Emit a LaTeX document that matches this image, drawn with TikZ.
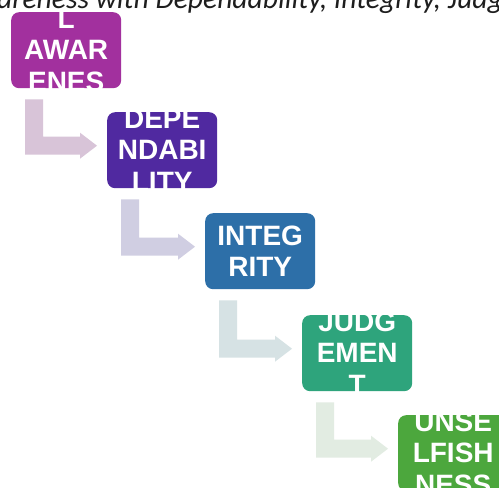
\documentclass[tikz,border=0pt]{standalone}
\usepackage{fontspec}
\setmainfont{Liberation Sans}
\newfontfamily\titlefont{Carlito}
\usetikzlibrary{calc}
\definecolor{cA}{RGB}{162,48,158}
\definecolor{cB}{RGB}{80,41,160}
\definecolor{cC}{RGB}{45,111,168}
\definecolor{cD}{RGB}{46,164,124}
\definecolor{cE}{RGB}{76,167,61}
\definecolor{aA}{RGB}{216,196,216}
\definecolor{aB}{RGB}{208,206,226}
\definecolor{aC}{RGB}{214,226,228}
\definecolor{aD}{RGB}{226,236,226}
\definecolor{titlegray}{RGB}{30,30,30}
\tikzset{
  stepbox/.style={rounded corners=8pt, minimum width=110pt, minimum height=76pt,
    inner sep=0pt, anchor=north west, draw=none},
  boxtext/.style={text=white, font=\fontsize{28}{31.5}\selectfont\bfseries,
    align=center, inner sep=0pt},
  titletext/.style={text=titlegray, font=\titlefont\itshape\fontsize{29.6}{34}\selectfont,
    inner sep=0pt, anchor=base west},
}
\newcommand\stepconn[3]{%
  \fill[#3] let \p1=(#1.south west), \p2=(#2.west) in
    (\x1+14pt,\y1-11pt) -- (\x1+32pt,\y1-11pt) -- (\x1+32pt,\y2+13.5pt)
    -- (\x2-27pt,\y2+13.5pt) -- (\x2-27pt,\y2+17.5pt) -- (\x2-10pt,\y2+4.5pt)
    -- (\x2-27pt,\y2-8.5pt) -- (\x2-27pt,\y2-4.5pt) -- (\x1+14pt,\y2-4.5pt) -- cycle;}
\newcommand\steptext[3]{%
  \begin{scope}
    \clip[rounded corners=8pt] (#1.north west) rectangle (#1.south east);
    \node[boxtext] (#2) at (#1.center) {#3};
  \end{scope}}
\begin{document}
\begin{tikzpicture}[x=1pt,y=-1pt]
\useasboundingbox (0,0) rectangle (499,488);
\fill[white] (0,0) rectangle (499,488);
\clip (0,0) rectangle (499,488);
\node[titletext] (title) at (-3,8) {areness with Dependability, Integrity, Judg};
\node[stepbox, fill=cA] (b1) at (11,12) {};
\node[stepbox, fill=cB] (b2) at (107,112) {};
\node[stepbox, fill=cC] (b3) at (205,213) {};
\node[stepbox, fill=cD] (b4) at (302,315) {};
\node[stepbox, fill=cE] (b5) at (398,415) {};
\steptext{b1}{t1}{L\\AWAR\\ENES}
\steptext{b2}{t2}{DEPE\\NDABI\\LITY}
\steptext{b3}{t3}{INTEG\\RITY}
\steptext{b4}{t4}{JUDG\\EMEN\\T}
\steptext{b5}{t5}{UNSE\\LFISH\\NESS}
\stepconn{b1}{b2}{aA}
\stepconn{b2}{b3}{aB}
\stepconn{b3}{b4}{aC}
\stepconn{b4}{b5}{aD}
\end{tikzpicture}
\end{document}
